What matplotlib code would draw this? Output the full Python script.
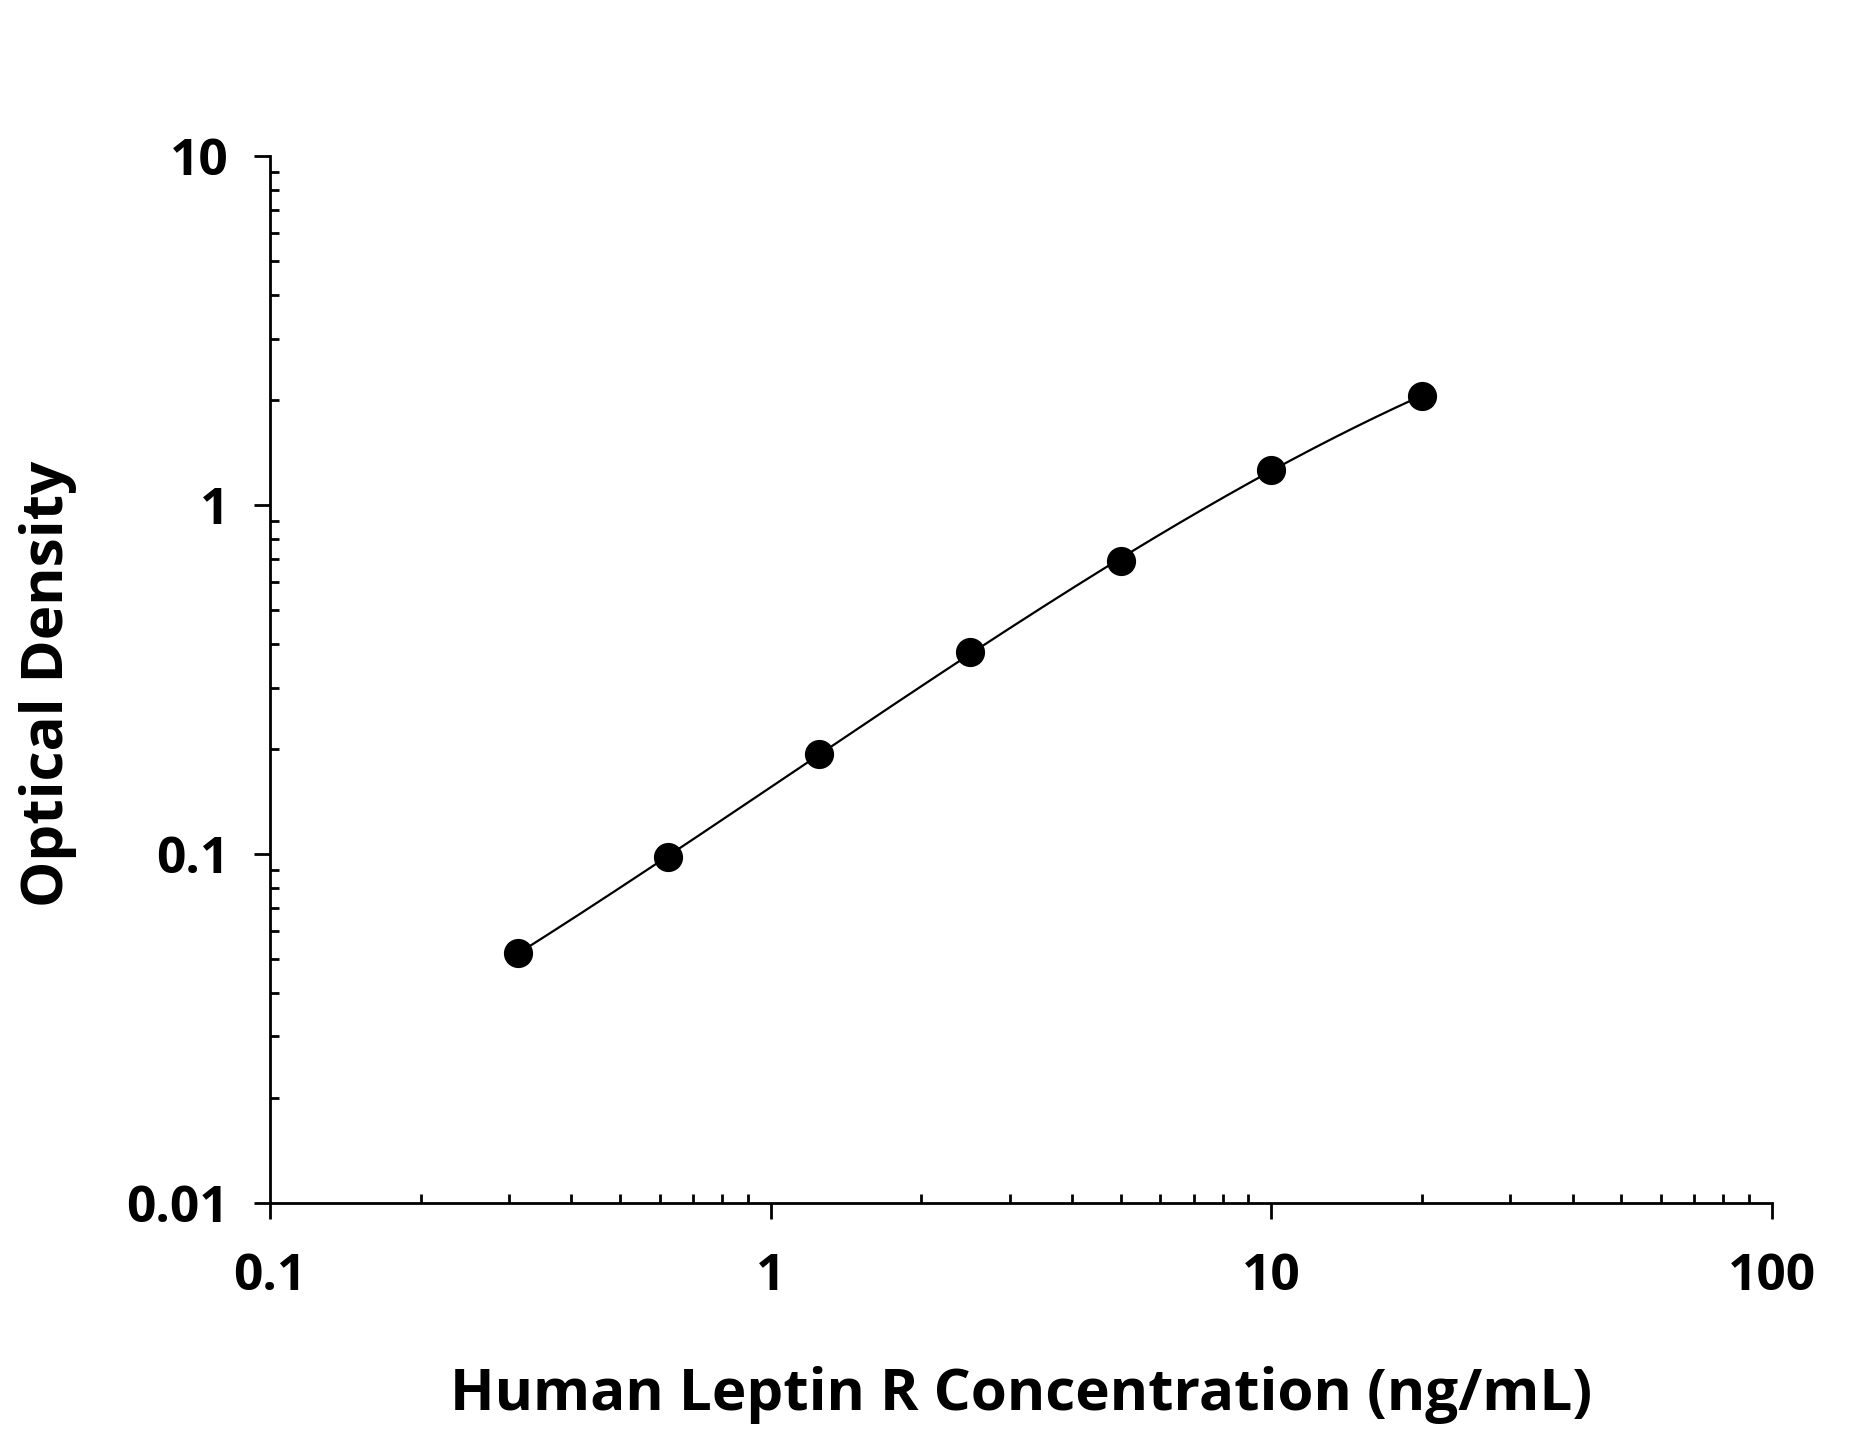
import numpy as np
import matplotlib
matplotlib.use("Agg")
import matplotlib.pyplot as plt
from matplotlib.ticker import LogLocator, FixedFormatter, FixedLocator, NullFormatter

# standard curve readings
conc = [0.3125, 0.625, 1.25, 2.5, 5, 10, 20]
od = [0.052, 0.098, 0.193, 0.38, 0.692, 1.26, 2.06]

x_ticks = [0.1, 1, 10, 100]
x_labels = ["0.1", "1", "10", "100"]
y_ticks = [0.01, 0.1, 1, 10]
y_labels = ["0.01", "0.1", "1", "10"]

plt.rcParams['font.family'] = ['Open Sans', 'DejaVu Sans']
plt.rcParams['font.weight'] = 'bold'

fig = plt.figure(figsize=(18.52, 14.33), dpi=100)
ax = fig.add_axes([0.1458, 0.1605, 0.8110, 0.7306])

# fitted curve (cubic in log-log space)
lx = np.log10(conc)
ly = np.log10(od)
coef = np.polyfit(lx, ly, 3)
xs = np.linspace(lx[0], lx[-1], 300)
ax.plot(10 ** xs, 10 ** np.polyval(coef, xs), color='black', lw=1.6, zorder=2)
ax.plot(conc, od, 'o', color='black', ms=20, zorder=3)

ax.set_xscale('log')
ax.set_yscale('log')
ax.set_xlim(0.1, 100)
ax.set_ylim(0.01, 10)

ax.xaxis.set_major_locator(FixedLocator(x_ticks))
ax.xaxis.set_major_formatter(FixedFormatter(x_labels))
ax.yaxis.set_major_locator(FixedLocator(y_ticks))
ax.yaxis.set_major_formatter(FixedFormatter(y_labels))
ax.xaxis.set_minor_locator(LogLocator(base=10, subs=np.arange(2, 10), numticks=20))
ax.yaxis.set_minor_locator(LogLocator(base=10, subs=np.arange(2, 10), numticks=20))
ax.xaxis.set_minor_formatter(NullFormatter())
ax.yaxis.set_minor_formatter(NullFormatter())

for s in ('top', 'right'):
    ax.spines[s].set_visible(False)
for s in ('left', 'bottom'):
    ax.spines[s].set_linewidth(2)

ax.tick_params(which='major', direction='out', length=11.5, width=2)
ax.tick_params(which='minor', direction='in', length=6.5, width=2)
ax.tick_params(axis='x', which='major', labelsize=37, pad=24)
ax.tick_params(axis='y', which='major', labelsize=37, pad=18)

fig.text(1021 / 1852, 1 - 1395 / 1433, "Human Leptin R Concentration (ng/mL)",
         ha='center', va='center', fontsize=42, fontweight='bold')
fig.text(48 / 1852, 1 - 684 / 1433, "Optical Density", rotation=90,
         ha='center', va='center', fontsize=42, fontweight='bold')

fig.savefig("out.png", dpi=100)
